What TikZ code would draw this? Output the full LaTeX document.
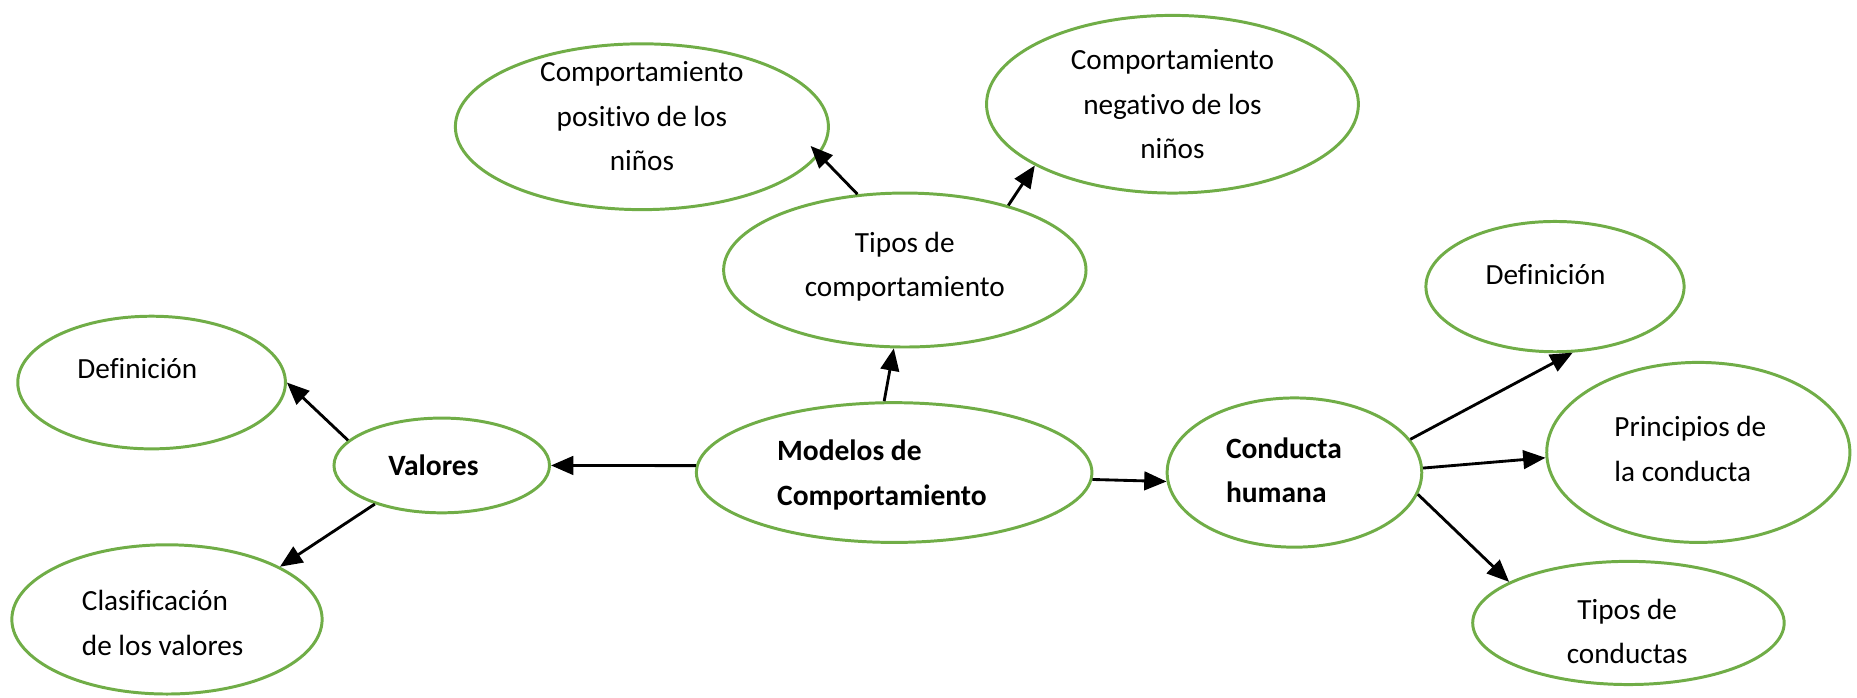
\documentclass[tikz,border=0pt]{standalone}
\usepackage{fontspec}
\setmainfont{Carlito}[Ligatures=NoCommon]
\usetikzlibrary{shapes, arrows.meta, positioning}
\definecolor{ovalgreen}{RGB}{112,173,71}
\newcommand{\pxu}{0.0168cm}

\begin{document}
\begin{tikzpicture}[x=\pxu, y=-\pxu, >={Triangle[length=9pt, width=7.5pt]}, line width=1.15pt,
    oval/.style 2 args={ellipse, draw=ovalgreen, line width=1.2pt, inner sep=0pt, minimum width=#1*\pxu, minimum height=#2*\pxu},
    txt/.style={inner sep=0pt, align=center, font=\fontsize{11.8}{17.9}\selectfont},
    txtl/.style={txt, align=left, anchor=west},
    txtb/.style={txtl, font=\fontsize{11.9}{17.9}\selectfont\bfseries}]
    \useasboundingbox (0,0) rectangle (1568,589);

    % ovals
    \node[oval={315}{140}] (positivo) at (542,107) {};
    \node[oval={314}{150}] (negativo) at (990,88) {};
    \node[oval={306}{130}] (tipos) at (764,228) {};
    \node[oval={218}{110}] (defder) at (1313,242) {};
    \node[oval={226}{112}] (defizq) at (128,323) {};
    \node[oval={182}{80}] (valores) at (373,393) {};
    \node[oval={334}{118}] (modelos) at (755,399) {};
    \node[oval={215}{126}] (conducta) at (1093,399) {};
    \node[oval={256}{152}] (principios) at (1434,382) {};
    \node[oval={262}{126}] (clasif) at (141,523) {};
    \node[oval={263}{104}] (tiposcond) at (1375,526) {};

    % texts
    \node[txt] (positivo text) at (542,98) {Comportamiento\\positivo de los\\niños};
    \node[txt] (negativo text) at (990,88) {Comportamiento\\negativo de los\\niños};
    \node[txt] (tipos text) at (764,225) {Tipos de\\comportamiento};
    \node[txt] (defder text) at (1305,232) {Definición};
    \node[txt] (defizq text) at (116,311) {Definición};
    \node[txt, font=\fontsize{11.9}{17.9}\selectfont\bfseries] (valores text) at (366,393) {Valores};
    \node[txtb] (modelos text) at (655,401) {Modelos de\\Comportamiento};
    \node[txtb] (conducta text) at (1034,397) {Conducta\\humana};
    \node[txtl] (principios text) at (1362,379) {Principios de\\la conducta};
    \node[txtl] (clasif text) at (68,526) {Clasificación\\de los valores};
    \node[txt] (tiposcond text) at (1374,533) {Tipos de\\conductas};

    % arrows
    \draw[->, shorten >=-5pt] (tipos.122) -- (positivo.-9);
    \draw[->] (tipos.32) -- (negativo.204);
    \draw[->] (modelos.98) -- (tipos.-98);
    \draw[->] (modelos.178) -- (valores.0);
    \draw[->] (modelos.-2) -- (conducta.184);
    \draw[->] (valores.165) -- (defizq.0);
    \draw[->] (valores.210) -- (clasif.25);
    \draw[->] (conducta.16) -- (defder.-75);
    \draw[->] (conducta.2) -- (principios.182);
    \draw[->] (conducta.-10) -- (tiposcond.161);
\end{tikzpicture}
\end{document}
